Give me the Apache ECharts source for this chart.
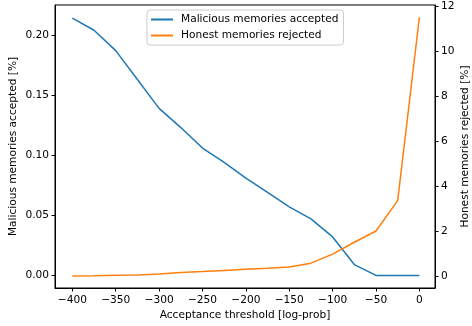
<!DOCTYPE html>
<html>
<head>
<meta charset="utf-8">
<script src="https://cdn.jsdelivr.net/npm/echarts@6/dist/echarts.min.js"></script>
<style>
html, body { margin: 0; padding: 0; background: #fff; }
#chart { width: 472px; height: 326px; }
</style>
</head>
<body>
<div id="chart"></div>
<script>
// data
var thresholds = [-400, -375, -350, -325, -300, -275, -250, -225, -200, -175, -150, -125, -100, -75, -50, -25, 0];
var malicious = [0.214, 0.204, 0.187, 0.163, 0.139, 0.123, 0.106, 0.094, 0.081, 0.069, 0.057, 0.047, 0.032, 0.009, 0.0, 0.0, 0.0];
var honest = [0.0, 0.01, 0.03, 0.05, 0.09, 0.16, 0.2, 0.25, 0.3, 0.34, 0.4, 0.57, 0.97, 1.5, 2.0, 3.35, 11.5];
var xTicks = [-400, -350, -300, -250, -200, -150, -100, -50, 0];
var leftTicks = [0, 0.05, 0.10, 0.15, 0.20];
var rightTicks = [0, 2, 4, 6, 8, 10, 12];

var font = 'DejaVu Sans';
var ink = '#000';
var fs = 10.6;

function pairs(xs, ys) {
	var out = [];
	for (var i = 0; i < xs.length; i++) out.push([xs[i], ys[i]]);
	return out;
}

var myChart = echarts.init(document.getElementById('chart'), null, {renderer: 'canvas'});

var option = {
	animation: false,
	textStyle: {fontFamily: font, color: ink},
	grid: {left: 55, right: 37, top: 5, bottom: 38, outerBoundsMode: 'none', containLabel: false,
		show: true, borderColor: ink, borderWidth: 1},
	legend: {
		orient: 'vertical',
		left: 147,
		top: 10,
		padding: [4, 5, 4, 4],
		itemGap: 5,
		itemWidth: 22,
		itemHeight: 2,
		icon: 'rect',
		borderColor: '#cccccc',
		borderWidth: 1,
		borderRadius: 3,
		textStyle: {fontFamily: font, fontSize: fs, color: ink, padding: [0, 0, 0, 3]},
		data: ['Malicious memories accepted', 'Honest memories rejected']
	},
	xAxis: {
		type: 'value',
		min: -420,
		max: 18,
		name: 'Acceptance threshold [log-prob]',
		nameLocation: 'middle',
		nameGap: 22,
		nameMoveOverlap: false,
		nameTextStyle: {fontFamily: font, fontSize: fs, color: ink},
		splitLine: {show: false},
		axisLine: {show: true, onZero: false, lineStyle: {color: ink, width: 1}},
		axisTick: {show: true, length: 3.5, lineStyle: {color: ink}, customValues: xTicks},
		axisLabel: {
			fontFamily: font, fontSize: fs, color: ink, margin: 7,
			customValues: xTicks,
			formatter: function(v) { return v < 0 ? '\u2212' + Math.abs(v) : String(v); }
		}
	},
	yAxis: [
		{
			type: 'value',
			min: -0.0105,
			max: 0.225,
			name: 'Malicious memories accepted [%]',
			nameLocation: 'middle',
			nameGap: 36,
			nameMoveOverlap: false,
			nameTextStyle: {fontFamily: font, fontSize: fs, color: ink},
			splitLine: {show: false},
			axisLine: {show: true, onZero: false, lineStyle: {color: ink}},
			axisTick: {show: true, length: 3.5, lineStyle: {color: ink}, customValues: leftTicks},
			axisLabel: {
				fontFamily: font, fontSize: fs, color: ink, margin: 6,
				customValues: leftTicks,
				formatter: function(v) { return v.toFixed(2); }
			}
		},
		{
			type: 'value',
			position: 'right',
			min: -0.533,
			max: 12.044,
			name: 'Honest memories rejected [%]',
			nameLocation: 'middle',
			nameGap: 25,
			nameRotate: 90,
			nameMoveOverlap: false,
			nameTextStyle: {fontFamily: font, fontSize: fs, color: ink},
			splitLine: {show: false},
			axisLine: {show: true, onZero: false, lineStyle: {color: ink}},
			axisTick: {show: true, length: 3.5, lineStyle: {color: ink}, customValues: rightTicks},
			axisLabel: {
				fontFamily: font, fontSize: fs, color: ink, margin: 6,
				customValues: rightTicks
			}
		}
	],
	series: [
		{
			name: 'Malicious memories accepted',
			type: 'line',
			yAxisIndex: 0,
			showSymbol: false,
			symbol: 'none',
			lineStyle: {color: '#1f77b4', width: 1.5},
			itemStyle: {color: '#1f77b4'},
			data: pairs(thresholds, malicious)
		},
		{
			name: 'Honest memories rejected',
			type: 'line',
			yAxisIndex: 1,
			showSymbol: false,
			symbol: 'none',
			lineStyle: {color: '#ff7f0e', width: 1.5},
			itemStyle: {color: '#ff7f0e'},
			data: pairs(thresholds, honest)
		}
	]
};

myChart.setOption(option);
</script>
</body>
</html>
